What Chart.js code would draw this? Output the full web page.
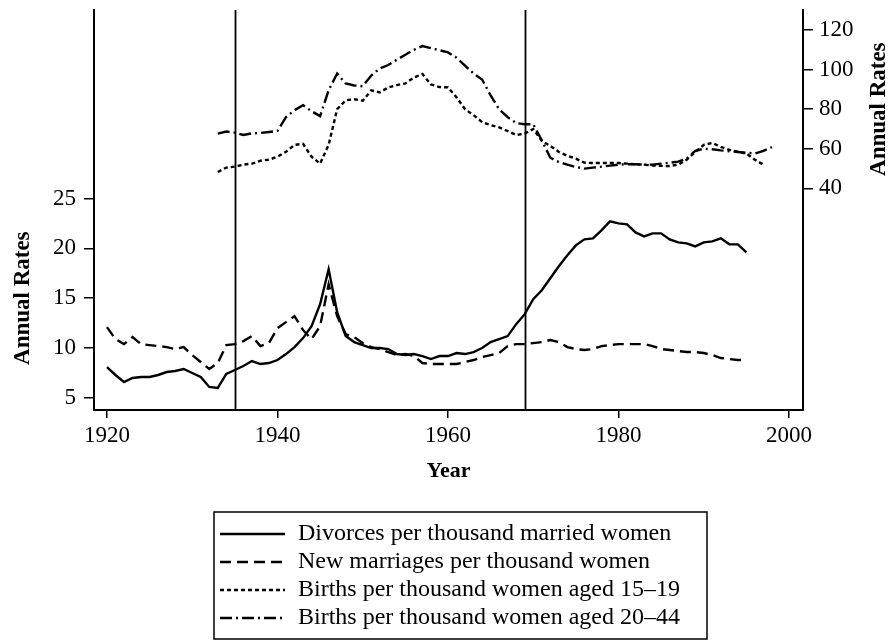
<!DOCTYPE html>
<html>
<head>
<meta charset="utf-8">
<title>Annual Rates</title>
<script src="https://cdn.jsdelivr.net/npm/chart.js@4.4.1/dist/chart.umd.min.js"></script>
<style>
  html, body { margin: 0; padding: 0; background: #fff; }
  #wrap { width: 893px; height: 642px; }
</style>
</head>
<body>
<div id="wrap"><canvas id="chart" width="893" height="642"></canvas></div>
<script>
// data
const divorceYears = [];
for (let y = 1920; y <= 1995; y++) divorceYears.push(y);
const divorces = [
  8.1, 7.3, 6.6, 7.0, 7.1, 7.1, 7.3, 7.6, 7.7, 7.9,
  7.5, 7.1, 6.1, 6.0, 7.4, 7.8, 8.2, 8.7, 8.4, 8.5,
  8.8, 9.4, 10.1, 11.0, 12.2, 14.4, 17.9, 13.6, 11.2, 10.6,
  10.3, 10.0, 10.0, 9.9, 9.4, 9.3, 9.4, 9.2, 8.9, 9.2,
  9.2, 9.5, 9.4, 9.6, 10.0, 10.6, 10.9, 11.2, 12.4, 13.4,
  14.9, 15.8, 17.0, 18.2, 19.3, 20.3, 20.9, 21.0, 21.8, 22.7,
  22.5, 22.4, 21.6, 21.2, 21.5, 21.5, 20.9, 20.6, 20.5, 20.2,
  20.6, 20.7, 21.0, 20.4, 20.4, 19.6
];
const marriages = [
  12.1, 10.9, 10.4, 11.1, 10.4, 10.3, 10.2, 10.1, 9.9, 10.1,
  9.3, 8.6, 7.9, 8.5, 10.3, 10.4, 10.7, 11.2, 10.2, 10.5,
  12.0, 12.6, 13.2, 11.8, 10.9, 12.2, 16.4, 13.2, 11.4, 11.1,
  10.5, 10.1, 9.9, 9.6, 9.3, 9.4, 9.2, 8.5, 8.4, 8.4,
  8.4, 8.4, 8.6, 8.8, 9.1, 9.3, 9.5, 10.2, 10.4, 10.4,
  10.5, 10.6, 10.8, 10.6, 10.1, 9.9, 9.8, 9.9, 10.2, 10.3,
  10.4, 10.4, 10.4, 10.4, 10.2, 9.9, 9.8, 9.7, 9.6, 9.6,
  9.5, 9.3, 9.0, 8.9, 8.8, 8.8
];

const teenYears = [];
for (let y = 1933; y <= 1997; y++) teenYears.push(y);
const birthsTeen = [
  48.3, 50.5, 51.0, 52.0, 52.5, 54.0, 54.5,
  56.0, 58.5, 62.0, 62.5, 56.0, 52.5, 62.0, 80.0, 84.5, 85.0,
  84.3, 89.5, 88.5, 91.0, 92.2, 93.0, 96.0, 97.8, 92.5, 91.2,
  91.0, 86.0, 80.0, 77.0, 73.5, 72.0, 70.8, 69.0, 67.0, 67.7,
  70.0, 64.0, 61.5, 58.4, 56.5, 55.0, 53.0, 52.8, 52.8, 52.8,
  52.8, 52.5, 52.2, 52.0, 51.6, 51.4, 51.3, 52.0, 54.5, 58.4,
  62.0, 63.0, 61.0, 59.5, 58.5, 57.6, 54.5, 52.0
];

const adultYears = [];
for (let y = 1933; y <= 1998; y++) adultYears.push(y);
const birthsAdult = [
  67.7, 68.7, 68.2, 67.0, 67.8, 68.0, 68.5,
  69.0, 76.0, 79.5, 82.0, 79.0, 76.5, 89.6, 98.0, 93.0, 92.0,
  91.6, 97.0, 100.6, 102.3, 105.0, 107.5, 110.0, 111.9, 110.8, 109.8,
  108.7, 106.0, 102.0, 98.0, 95.0, 87.0, 80.0, 76.0, 73.0, 72.4,
  72.4, 64.3, 55.5, 53.3, 52.0, 50.8, 50.0, 50.5, 51.0, 51.5,
  52.0, 52.2, 52.2, 52.0, 52.0, 52.5, 53.0, 53.5, 55.0, 59.0,
  60.0, 59.8, 59.2, 58.8, 58.4, 58.0, 57.6, 59.0, 60.9
];

const eventYears = [1935, 1969];
const xTicks = [1920, 1940, 1960, 1980, 2000];
const leftTicks = [5, 10, 15, 20, 25];
const rightTicks = [40, 60, 80, 100, 120];

const seriesLabels = [
  'Divorces per thousand married women',
  'New marriages per thousand women',
  'Births per thousand women aged 15\u201319',
  'Births per thousand women aged 20\u201344'
];

const SERIF = '"Liberation Serif", "Times New Roman", serif';

const pts = (xs, ys) => xs.map((x, i) => ({ x: x, y: ys[i] }));

const lineStyle = {
  borderColor: '#000',
  borderWidth: 2.4,
  pointRadius: 0,
  fill: false,
  tension: 0
};

const datasets = [
  { ...lineStyle, label: seriesLabels[0], data: pts(divorceYears, divorces), yAxisID: 'yL', borderDash: [] },
  { ...lineStyle, label: seriesLabels[1], data: pts(divorceYears, marriages), yAxisID: 'yL', borderDash: [11, 6] },
  { ...lineStyle, label: seriesLabels[2], data: pts(teenYears, birthsTeen), yAxisID: 'yR', borderDash: [4, 3] },
  { ...lineStyle, label: seriesLabels[3], data: pts(adultYears, birthsAdult), yAxisID: 'yR', borderDash: [12, 4, 2, 4] }
];

// no extra label padding, so the plot box sits exactly where the axes are
const noPad = s => { s.paddingTop = 0; s.paddingBottom = 0; s.paddingLeft = 0; s.paddingRight = 0; };

const decorations = {
  id: 'decorations',
  afterDatasetsDraw(chart) {
    const ctx = chart.ctx;
    const x = chart.scales.x;
    const area = chart.chartArea;
    ctx.save();
    ctx.strokeStyle = '#000';
    ctx.lineWidth = 1.8;
    eventYears.forEach(yr => {
      const px = Math.round(x.getPixelForValue(yr)) + 0.5;
      ctx.beginPath();
      ctx.moveTo(px, area.top);
      ctx.lineTo(px, area.bottom);
      ctx.stroke();
    });
    ctx.restore();
  },
  afterDraw(chart) {
    const ctx = chart.ctx;
    const yL = chart.scales.yL;
    const yR = chart.scales.yR;
    const x = chart.scales.x;
    ctx.save();
    ctx.fillStyle = '#000';
    ctx.font = 'bold 23px ' + SERIF;
    ctx.textAlign = 'center';
    ctx.textBaseline = 'middle';

    // axis titles, centred on the ticked ranges
    const lc = (yL.getPixelForValue(leftTicks[0]) + yL.getPixelForValue(leftTicks[leftTicks.length - 1])) / 2;
    ctx.save();
    ctx.translate(23, lc);
    ctx.rotate(-Math.PI / 2);
    ctx.fillText('Annual Rates', 0, 0);
    ctx.restore();

    const rc = (yR.getPixelForValue(rightTicks[0]) + yR.getPixelForValue(rightTicks[rightTicks.length - 1])) / 2;
    ctx.save();
    ctx.translate(879, rc);
    ctx.rotate(-Math.PI / 2);
    ctx.fillText('Annual Rates', 0, 0);
    ctx.restore();

    ctx.font = 'bold 22px ' + SERIF;
    ctx.textBaseline = 'alphabetic';
    ctx.fillText('Year', (x.left + x.right) / 2, 477);

    // legend
    const box = { left: 214, top: 512, right: 707, bottom: 639 };
    ctx.lineWidth = 1.5;
    ctx.strokeStyle = '#000';
    ctx.strokeRect(box.left, box.top, box.right - box.left, box.bottom - box.top);
    ctx.font = '24px ' + SERIF;
    ctx.textAlign = 'left';
    ctx.textBaseline = 'middle';
    const rowY = [534, 562, 590, 618];
    chart.data.datasets.forEach((ds, i) => {
      const y = rowY[i];
      ctx.save();
      ctx.lineWidth = 2.4;
      ctx.setLineDash(ds.borderDash);
      ctx.beginPath();
      ctx.moveTo(220, y);
      ctx.lineTo(285, y);
      ctx.stroke();
      ctx.restore();
      ctx.fillText(ds.label, 298, y);
    });
    ctx.restore();
  }
};

const tickFont = { family: SERIF, size: 23 };

new Chart(document.getElementById('chart'), {
  type: 'line',
  data: { datasets: datasets },
  options: {
    responsive: false,
    animation: false,
    devicePixelRatio: 1,
    layout: { padding: { top: 10, left: 0, right: 0, bottom: 0 } },
    plugins: {
      legend: { display: false },
      tooltip: { enabled: false }
    },
    scales: {
      x: {
        type: 'linear',
        min: 1918.48,
        max: 2001.64,
        afterBuildTicks: s => { s.ticks = xTicks.map(v => ({ value: v })); },
        afterFit: s => { s.height = 232; noPad(s); },
        border: { display: true, color: '#000', width: 2 },
        grid: { drawOnChartArea: false, color: '#000', lineWidth: 1.5, tickLength: 8 },
        ticks: { color: '#000', font: tickFont, padding: 4, maxRotation: 0, callback: v => String(v) }
      },
      yL: {
        type: 'linear',
        position: 'left',
        min: 3.79,
        max: 43.9,
        afterBuildTicks: s => { s.ticks = leftTicks.map(v => ({ value: v })); },
        afterFit: s => { s.width = 94; noPad(s); },
        border: { display: true, color: '#000', width: 2 },
        grid: { drawOnChartArea: false, color: '#000', lineWidth: 1.5, tickLength: 10 },
        ticks: { color: '#000', font: tickFont, padding: 8 }
      },
      yR: {
        type: 'linear',
        position: 'right',
        min: -71.9,
        max: 130.1,
        afterBuildTicks: s => { s.ticks = rightTicks.map(v => ({ value: v })); },
        afterFit: s => { s.width = 90; noPad(s); },
        border: { display: true, color: '#000', width: 2 },
        grid: { drawOnChartArea: false, color: '#000', lineWidth: 1.5, tickLength: 10 },
        ticks: { color: '#000', font: tickFont, padding: 6 }
      }
    }
  },
  plugins: [decorations]
});
</script>
</body>
</html>
